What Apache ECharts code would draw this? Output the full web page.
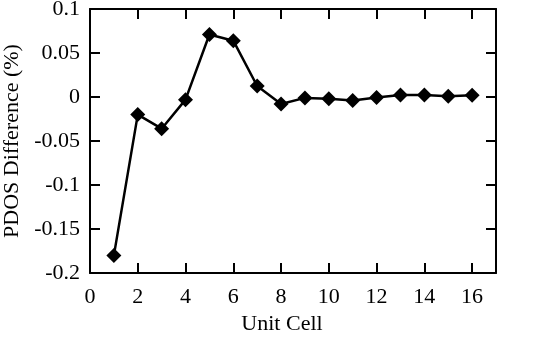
<!DOCTYPE html>
<html><head><meta charset="utf-8">
<script src="https://cdn.jsdelivr.net/npm/echarts@6/dist/echarts.min.js"></script>
<style>html,body{margin:0;padding:0;background:#fff}#c{width:538px;height:338px}</style>
</head><body><div id="c"></div>
<script>
const unitCells = [1,2,3,4,5,6,7,8,9,10,11,12,13,14,15,16];
const pdosDiff = [-0.180,-0.020,-0.036,-0.003,0.071,0.064,0.0125,-0.008,-0.001,-0.002,-0.004,-0.0005,0.0023,0.0023,0.0008,0.0019];
const xTicks = [0,2,4,6,8,10,12,14,16];
const yTicks = [-0.2,-0.15,-0.1,-0.05,0,0.05,0.1];

const font = 'Liberation Serif';
const chart = echarts.init(document.getElementById('c'));
const lineStyle = {color:'#000', width:2};
const xLabel = v => xTicks.includes(Math.round(v*1000)/1000) ? String(Math.round(v)) : '';
const yLabel = v => String(+v.toFixed(2));
chart.setOption({
  animation:false,
  grid:{left:90, top:9, right:42, bottom:65, containLabel:false, outerBoundsMode:'none'},
  xAxis:[{
    type:'value', min:0, max:17, interval:2, position:'bottom',
    name:'Unit Cell', nameLocation:'middle', nameGap:40,
    nameTextStyle:{fontFamily:font, fontSize:22, color:'#000', padding:[0,22,0,0]},
    axisLine:{onZero:false, lineStyle:lineStyle},
    axisTick:{inside:true, length:10, lineStyle:lineStyle},
    axisLabel:{fontFamily:font, fontSize:22, color:'#000', margin:13, formatter:xLabel, showMaxLabel:false},
    splitLine:{show:false}
  },{
    type:'value', min:0, max:17, interval:2, position:'top',
    axisLine:{onZero:false, lineStyle:lineStyle},
    axisTick:{inside:true, length:10, lineStyle:lineStyle},
    axisLabel:{show:false}, splitLine:{show:false}
  }],
  yAxis:[{
    type:'value', min:-0.2, max:0.1, interval:0.05, position:'left',
    name:'PDOS Difference (%)', nameLocation:'middle', nameGap:63,
    nameTextStyle:{fontFamily:font, fontSize:22, color:'#000'},
    axisLine:{show:true, onZero:false, lineStyle:lineStyle},
    axisTick:{show:true, inside:true, length:10, lineStyle:lineStyle},
    axisLabel:{fontFamily:font, fontSize:22, color:'#000', margin:10, formatter:yLabel},
    splitLine:{show:false}
  },{
    type:'value', min:-0.2, max:0.1, interval:0.05, position:'right',
    axisLine:{show:true, onZero:false, lineStyle:lineStyle},
    axisTick:{show:true, inside:true, length:10, lineStyle:lineStyle},
    axisLabel:{show:false}, splitLine:{show:false}
  }],
  series:[{
    type:'line',
    data: unitCells.map((x,i)=>[x, pdosDiff[i]]),
    symbol:'diamond', symbolSize:15,
    itemStyle:{color:'#000'},
    lineStyle:{color:'#000', width:2.5}
  }]
});
</script></body></html>
